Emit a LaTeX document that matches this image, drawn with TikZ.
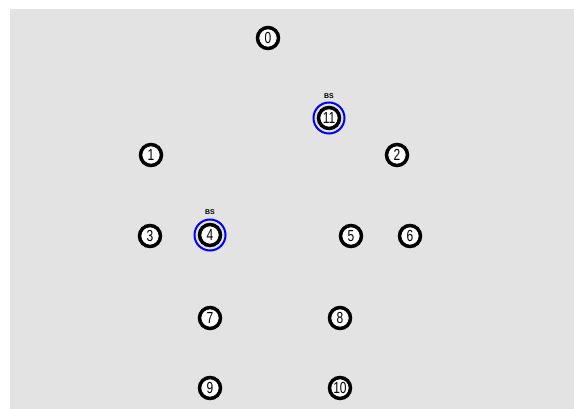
\documentclass[tikz,border=0pt]{standalone}
\usepackage{fontspec}
\setmainfont{Liberation Sans}
\usepackage{graphicx}

\newcommand{\numtxt}[1]{\scalebox{0.75}[1]{\fontsize{16}{16}\selectfont #1}}

\begin{document}
\begin{tikzpicture}[x=1pt,y=-1pt,
    main/.style = {draw, circle, fill=white, line width=3.5pt, minimum size=21pt, inner sep=0pt},
    bs/.style = {draw=blue, circle, line width=2pt, minimum size=31pt, inner sep=0pt},
    bslabel/.style = {font=\fontsize{7}{7}\selectfont\bfseries, inner sep=0pt}]
    \useasboundingbox (0,0) rectangle (574,409);
    \fill[black!11] (10,9) rectangle (574,409);

    \node[main] (0)  at (268,38)  {\numtxt{0}};
    \node[main] (1)  at (151,155) {\numtxt{1}};
    \node[main] (2)  at (397,155) {\numtxt{2}};
    \node[main] (3)  at (150,236) {\numtxt{3}};
    \node[main] (4)  at (210,235) {\numtxt{4}};
    \node[main] (5)  at (351,236) {\numtxt{5}};
    \node[main] (6)  at (410,236) {\numtxt{6}};
    \node[main] (7)  at (210,318) {\numtxt{7}};
    \node[main] (8)  at (340,318) {\numtxt{8}};
    \node[main] (9)  at (210,388) {\numtxt{9}};
    \node[main] (10) at (340,388) {\numtxt{10}};
    \node[main] (11) at (329,118) {\numtxt{11}};

    % base stations
    \node[bs] (bs4)  at (4)  {};
    \node[bs] (bs11) at (11) {};
    \node[bslabel] (lbs4)  at (210,212) {BS};
    \node[bslabel] (lbs11) at (329,96)  {BS};
\end{tikzpicture}
\end{document}
